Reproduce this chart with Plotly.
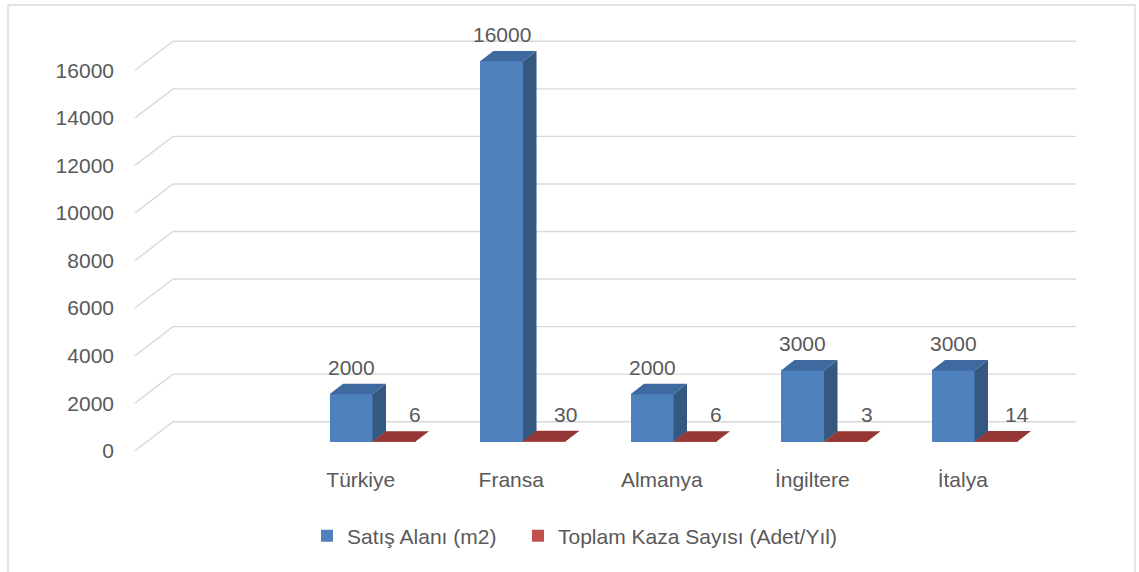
import plotly.graph_objects as go

# ---------------- data ----------------
categories = ["", "Türkiye", "Fransa", "Almanya", "İngiltere", "İtalya"]
satis_alani = [None, 2000, 16000, 2000, 3000, 3000]
kaza_sayisi = [None, 6, 30, 6, 3, 14]
y_ticks = [0, 2000, 4000, 6000, 8000, 10000, 12000, 14000, 16000]
series_names = ["Satış Alanı (m2)", "Toplam Kaza Sayısı (Adet/Yıl)"]

# ---------------- geometry / style ----------------
W, H = 1139, 572
PX0 = 135.0        # pixel of x = -0.5 (front-left floor corner)
PXU = 150.5        # pixels per category
PY0 = 450.7        # pixel of value 0 on front plane
PYU = 47.55 / 2000 # pixels per value unit
PLOT_L, PLOT_R, PLOT_T, PLOT_B = 125, 1085, 28, 462

DX = 38.0 / PXU    # depth offset in x units (full floor depth)
DY = 29.0 / PYU    # depth offset in value units
T1, T2 = 0.31, 0.665  # bar front / back depth fraction
BW = 1 / 3.5       # bar width in category units

xr = [-0.5 - (PX0 - PLOT_L) / PXU, -0.5 + (PLOT_R - PX0) / PXU]
yr = [-(PLOT_B - PY0) / PYU, (PY0 - PLOT_T) / PYU]

TXT = "#595959"
FONT = "Liberation Sans"
FS = 21
GRID = "#D9D9D9"
colors = {
    "blue": ("#4F81BD", "#34587F", "#3E6AA0"),
    "red": ("#C0504D", "#7A2C2A", "#953735"),
}

fig = go.Figure()

idx = list(range(len(categories)))
x_left = -0.5
x_right = len(categories) - 0.5

# gridlines (3D walls): slanted left part + back horizontal
shapes = []
for v in y_ticks:
    path = (f"M {x_left},{v} L {x_left + DX},{v + DY} L {x_right + DX},{v + DY}")
    shapes.append(dict(type="path", path=path, xref="x", yref="y",
                       line=dict(color=GRID, width=1.4), layer="below"))

base = T1 * DY
ddx = (T2 - T1) * DX
ddy = (T2 - T1) * DY


def faces(vals, offset_sign):
    side_x, side_y, top_x, top_y, xs, ys = [], [], [], [], [], []
    for i, v in zip(idx, vals):
        if v is None:
            continue
        xc = i + T1 * DX
        if offset_sign < 0:
            l, r = xc - BW, xc
        else:
            l, r = xc, xc + BW
        xs.append((l + r) / 2)
        ys.append(v)
        top = base + v
        side_x += [r, r + ddx, r + ddx, r, r, None]
        side_y += [base, base + ddy, top + ddy, top, base, None]
        top_x += [l, l + ddx, r + ddx, r, l, None]
        top_y += [top, top + ddy, top + ddy, top, top, None]
    return xs, ys, side_x, side_y, top_x, top_y


blue = faces(satis_alani, -1)
red = faces(kaza_sayisi, +1)

for name, data, key, lg in [(series_names[0], blue, "blue", "legend"),
                            (series_names[1], red, "red", "legend2")]:
    xs, ys, _, _, _, _ = data
    fig.add_trace(go.Bar(x=xs, y=ys, base=base, width=BW, name=name, legend=lg,
                         marker=dict(color=colors[key][0], line=dict(width=0)),
                         hoverinfo="skip"))

for data, key in [(blue, "blue"), (red, "red")]:
    _, _, sx, sy, tx, ty = data
    fig.add_trace(go.Scatter(x=sx, y=sy, mode="lines", fill="toself",
                             fillcolor=colors[key][1], line=dict(width=0),
                             showlegend=False, hoverinfo="skip"))
    fig.add_trace(go.Scatter(x=tx, y=ty, mode="lines", fill="toself",
                             fillcolor=colors[key][2], line=dict(width=0),
                             showlegend=False, hoverinfo="skip"))

# data labels
ann = []
for data, xshift in [(blue, 0), (red, 21)]:
    xs, ys = data[0], data[1]
    for x, v in zip(xs, ys):
        ann.append(dict(x=x, y=base + v + ddy, text=str(v), showarrow=False,
                        xanchor="center", yanchor="bottom", yshift=3, xshift=xshift,
                        font=dict(family=FONT, size=FS, color=TXT)))

# chart border
pw = PLOT_R - PLOT_L
ph = PLOT_B - PLOT_T
shapes.append(dict(type="rect", xref="paper", yref="paper",
                   x0=(8 - PLOT_L) / pw, x1=(1135 - PLOT_L) / pw,
                   y0=(PLOT_B - 580) / ph, y1=(PLOT_B - 5) / ph,
                   line=dict(color="#D9D9D9", width=1.3), fillcolor="rgba(0,0,0,0)",
                   layer="below"))

legend_style = dict(orientation="h", xanchor="left", yanchor="middle",
                    y=(PLOT_B - 536) / ph,
                    font=dict(family=FONT, size=FS, color=TXT),
                    bgcolor="rgba(0,0,0,0)")

fig.update_layout(
    width=W, height=H, autosize=False,
    margin=dict(l=PLOT_L, r=W - PLOT_R, t=PLOT_T, b=H - PLOT_B, pad=0),
    paper_bgcolor="white", plot_bgcolor="white",
    barmode="overlay", bargap=0,
    shapes=shapes, annotations=ann,
    font=dict(family=FONT, size=FS, color=TXT),
    xaxis=dict(range=xr, tickmode="array", tickvals=idx[1:], ticktext=categories[1:],
               showgrid=False, zeroline=False, showline=False, ticks="",
               ticklabelstandoff=3, fixedrange=True),
    yaxis=dict(range=yr, tickmode="array", tickvals=y_ticks,
               ticktext=[str(v) for v in y_ticks],
               showgrid=False, zeroline=False, showline=False, ticks="",
               ticklabelstandoff=10, fixedrange=True),
    legend=dict(x=(307 - PLOT_L) / pw, **legend_style),
    legend2=dict(x=(518 - PLOT_L) / pw, **legend_style),
    showlegend=True,
)

fig.write_html("out.html", post_script="document.body.style.margin='0';",
               config={"displayModeBar": False})
